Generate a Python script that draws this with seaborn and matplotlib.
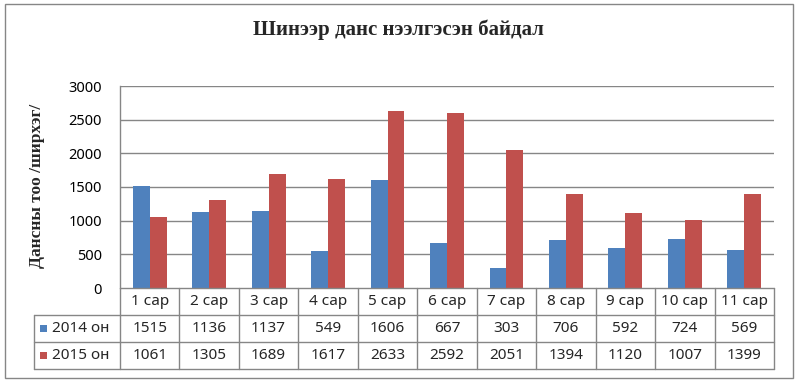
import matplotlib
matplotlib.use("Agg")
import matplotlib.pyplot as plt
import matplotlib.transforms as mtransforms
from matplotlib.patches import Rectangle
import seaborn as sns
import pandas as pd

months = ["1 сар", "2 сар", "3 сар", "4 сар", "5 сар", "6 сар", "7 сар", "8 сар", "9 сар", "10 сар", "11 сар"]
series_names = ["2014 он", "2015 он"]
vals_2014 = [1515, 1136, 1137, 549, 1606, 667, 303, 706, 592, 724, 569]
vals_2015 = [1061, 1305, 1689, 1617, 2633, 2592, 2051, 1394, 1120, 1007, 1399]
yticks = [0, 500, 1000, 1500, 2000, 2500, 3000]
title = "Шинээр данс нээлгэсэн байдал"
ylabel = "Дансны тоо /ширхэг/"

colors = ["#4F81BD", "#C0504D"]
grid_c = "#868686"

df = pd.DataFrame({
    "month": months * 2,
    "value": vals_2014 + vals_2015,
    "year": [series_names[0]] * len(months) + [series_names[1]] * len(months),
})

sns.set_theme(style="white")
plt.rcParams["font.family"] = ["Noto Sans", "DejaVu Sans"]

W, H = 796, 382
fig = plt.figure(figsize=(W / 100, H / 100), dpi=100)

def fx(px):
    return px / W

def fy(py):
    return 1 - py / H

left, right, top, bottom = 120, 774, 86, 288
ax = fig.add_axes([fx(left), fy(bottom), fx(right - left), (bottom - top) / H])

sns.barplot(data=df, x="month", y="value", hue="year", palette=colors,
            width=0.57, saturation=1, legend=False, ax=ax, order=months,
            hue_order=series_names, linewidth=0, edgecolor="none")

ax.set_xlim(-0.5, len(months) - 0.5)
ax.set_ylim(0, 3000)
ax.set_yticks(yticks)
ax.set_yticklabels([str(t) for t in yticks], fontsize=10.5, color="black")
ax.tick_params(axis="y", length=0, pad=13)
ax.set_xticks([])
ax.set_xlabel("")
ax.set_ylabel("")
for t in yticks[1:]:
    ax.axhline(t, color=grid_c, lw=1, zorder=0)
for s in ["top", "right", "bottom"]:
    ax.spines[s].set_visible(False)
ax.spines["left"].set_color(grid_c)
ax.spines["left"].set_linewidth(1)

# title and y-label
fig.text(0.5, fy(29.5), title, ha="center", va="center",
         family="Liberation Serif", weight="bold", fontsize=15)
fig.text(fx(37), fy(186), ylabel, ha="center", va="center", rotation=90,
         family="Liberation Serif", weight="bold", fontsize=12.5)

# data table
bt = mtransforms.blended_transform_factory(ax.transData, fig.transFigure)
ft = fig.transFigure
rows_y = [288, 315, 342, 369]
lw = 1
fig.add_artist(plt.Line2D([fx(left), fx(right)], [fy(288), fy(288)], color=grid_c, lw=lw))
for yy in rows_y[1:]:
    fig.add_artist(plt.Line2D([fx(34), fx(right)], [fy(yy), fy(yy)], color=grid_c, lw=lw))
fig.add_artist(plt.Line2D([fx(34), fx(34)], [fy(315), fy(369)], color=grid_c, lw=lw))
for i in range(len(months) + 1):
    xb = i - 0.5
    ax.add_artist(plt.Line2D([xb, xb], [fy(288), fy(369)], color=grid_c, lw=lw,
                             transform=bt, clip_on=False))
fs = 11
for i, m in enumerate(months):
    ax.text(i, fy(301.5), m, transform=bt, ha="center", va="center", fontsize=fs, clip_on=False)
    ax.text(i, fy(328.5), str(vals_2014[i]), transform=bt, ha="center", va="center", fontsize=fs, clip_on=False)
    ax.text(i, fy(355.5), str(vals_2015[i]), transform=bt, ha="center", va="center", fontsize=fs, clip_on=False)
for name, c, yc in zip(series_names, colors, [328.5, 355.5]):
    fig.add_artist(Rectangle((fx(40), fy(yc + 3.5)), fx(7), 7 / H, transform=ft,
                             facecolor=c, edgecolor="none"))
    fig.text(fx(52), fy(yc), name, ha="left", va="center", fontsize=fs)

fig.add_artist(Rectangle((fx(4.5), fy(377.5)), fx(788), 374 / H, transform=ft,
                         facecolor="none", edgecolor=grid_c, lw=1))

fig.savefig("out.png", dpi=100)
